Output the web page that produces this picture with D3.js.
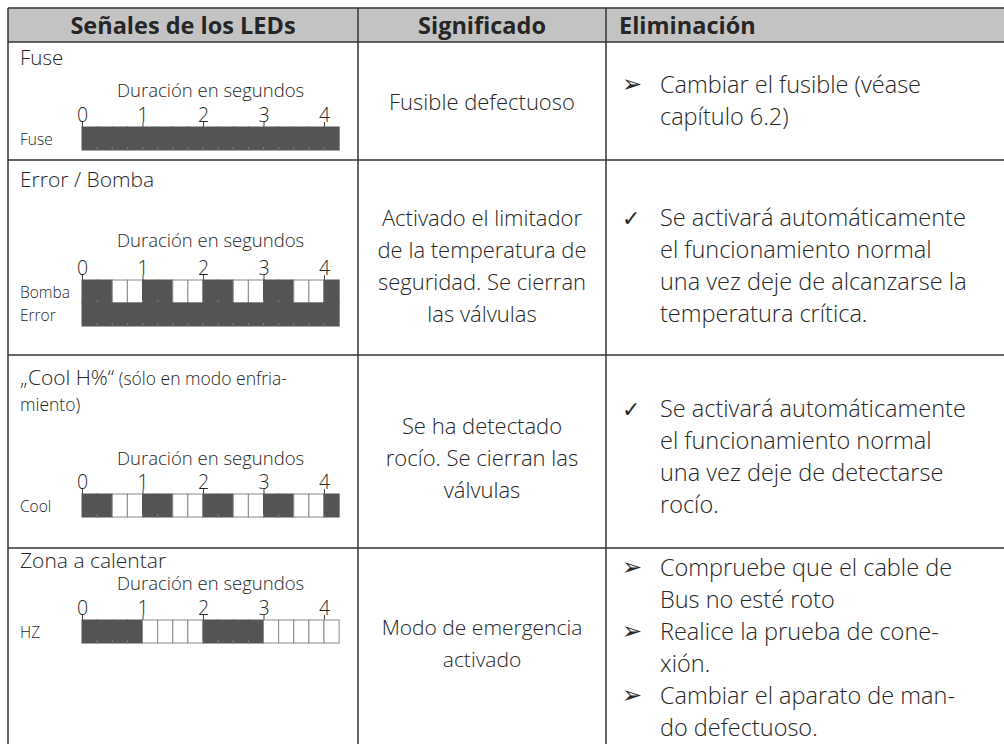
<!DOCTYPE html>
<html><head><meta charset="utf-8">
<script src="https://cdn.jsdelivr.net/npm/d3@7"></script>
<style>body{margin:0;background:#fff}</style>
</head><body><svg id="c" width="1004" height="744"></svg>
<script>
// ---------- data ----------
const headers = ["Señales de los LEDs", "Significado", "Eliminación"];
const rowTitles = ["Fuse", "Error / Bomba", "„Cool H%“", "Zona a calentar"];
const axisTitle = "Duración en segundos";
const tickLabels = [0, 1, 2, 3, 4];
// LED state per quarter second (1 = on, 0 = off), 0 … 4.25 s
const fuseStates  = [1,1,1,1,1,1,1,1,1,1,1,1,1,1,1,1,1];
const bombaStates = [1,1,0,0,1,1,0,0,1,1,0,0,1,1,0,0,1];
const errorStates = [1,1,1,1,1,1,1,1,1,1,1,1,1,1,1,1,1];
const coolStates  = [1,1,0,0,1,1,0,0,1,1,0,0,1,1,0,0,1];
const hzStates    = [1,1,1,1,0,0,0,0,1,1,1,1,0,0,0,0,0];
const meanings = [
  ["Fusible defectuoso"],
  ["Activado el limitador", "de la temperatura de", "seguridad. Se cierran", "las válvulas"],
  ["Se ha detectado", "rocío. Se cierran las", "válvulas"],
  ["Modo de emergencia", "activado"]
];
const remedies = [
  [{b: "➢", lines: ["Cambiar el fusible (véase", "capítulo 6.2)"]}],
  [{b: "✓", lines: ["Se activará automáticamente", "el funcionamiento normal", "una vez deje de alcanzarse la", "temperatura crítica."]}],
  [{b: "✓", lines: ["Se activará automáticamente", "el funcionamiento normal", "una vez deje de detectarse", "rocío."]}],
  [{b: "➢", lines: ["Compruebe que el cable de", "Bus no esté roto"]},
   {b: "➢", lines: ["Realice la prueba de cone-", "xión."]},
   {b: "➢", lines: ["Cambiar el aparato de man-", "do defectuoso."]}]
];

// ---------- layout ----------
const FONT = "'Open Sans', 'Noto Sans', sans-serif";
const TXT = "#262626";
const W = 350;
const colX = [8, 358, 606, 1012];
const rowY = [8, 42, 160, 355, 548, 760];
const svg = d3.select("#c");

svg.append("rect").attr("x", colX[0]).attr("y", rowY[0])
  .attr("width", colX[3] - colX[0]).attr("height", rowY[1] - rowY[0])
  .attr("fill", "#c3c3c3");

svg.selectAll("text.hdr").data(headers).join("text")
  .attr("class", "hdr")
  .attr("x", (d, i) => i < 2 ? (colX[i] + colX[i + 1]) / 2 : colX[2] + 13)
  .attr("y", 34)
  .attr("text-anchor", (d, i) => i < 2 ? "middle" : "start")
  .attr("font-family", FONT).attr("font-weight", 700).attr("font-size", 23.5)
  .attr("fill", TXT).text(d => d);

const g = svg.append("g").attr("stroke", "#333").attr("stroke-width", 1.5).attr("fill", "none");
rowY.forEach(y => g.append("line").attr("x1", colX[0]).attr("x2", colX[3]).attr("y1", y).attr("y2", y));
colX.forEach(x => g.append("line").attr("x1", x).attr("x2", x).attr("y1", rowY[0]).attr("y2", rowY[5]));

// ---------- LED diagrams ----------
const x = d3.scaleLinear().domain([0, 4]).range([82, 324]);
const BAR_H = 23;

function diagram(titleY, axisY, bars) {
  const gg = svg.append("g");
  gg.append("text").attr("x", (x(0) + x(4.25)) / 2).attr("y", titleY)
    .attr("text-anchor", "middle").attr("font-family", FONT).attr("font-size", 18.5)
    .attr("font-weight", W).attr("fill", TXT).text(axisTitle);
  const ax = gg.append("g").attr("transform", `translate(0,${axisY})`)
    .call(d3.axisTop(x).tickValues(tickLabels).tickSize(5).tickPadding(0).tickFormat(d3.format("d")));
  ax.select(".domain").remove();
  ax.selectAll("line").attr("stroke", "#444");
  ax.selectAll("text").attr("font-family", FONT).attr("font-size", 19.5).attr("font-weight", W).attr("fill", TXT);
  bars.forEach((b, k) => {
    const y0 = axisY + k * BAR_H;
    const bg = gg.append("g");
    bg.selectAll("rect").data(b.states).join("rect")
      .attr("x", (d, i) => x(i * 0.25)).attr("y", y0)
      .attr("width", (d, i) => x((i + 1) * 0.25) - x(i * 0.25)).attr("height", BAR_H)
      .attr("fill", d => d ? "#545454" : "#fff")
      .attr("stroke", d => d ? "#545454" : "#8a8a8a").attr("stroke-width", 1);
    bg.selectAll("line").data(b.states.map((d, i) => ({d, i})).filter(o => o.d && o.i > 0))
      .join("line")
      .attr("x1", o => x(o.i * 0.25)).attr("x2", o => x(o.i * 0.25))
      .attr("y1", y0 + BAR_H - 3).attr("y2", y0 + BAR_H)
      .attr("stroke", "#888").attr("stroke-width", 0.8);
    gg.append("text").attr("x", 20).attr("y", y0 + BAR_H - 5)
      .attr("font-family", FONT).attr("font-size", 15.5).attr("font-weight", W).attr("fill", TXT).text(b.label);
  });
}

// row titles
function title(txt, y, size) {
  return svg.append("text").attr("x", 20).attr("y", y).attr("font-family", FONT)
    .attr("font-size", size).attr("font-weight", W).attr("fill", TXT).text(txt);
}
title(rowTitles[0], 65, 20.5);
title(rowTitles[1], 187, 21);
const ct = svg.append("text").attr("x", 20).attr("y", 385).attr("font-family", FONT).attr("font-weight", W).attr("fill", TXT);
ct.append("tspan").attr("font-size", 21).text(rowTitles[2]);
ct.append("tspan").attr("font-size", 17.5).text("  (sólo en modo enfria-");
title("miento)", 411, 17.5);
title(rowTitles[3], 568, 21);

diagram(97, 127, [{label: "Fuse", states: fuseStates}]);
diagram(247, 280, [{label: "Bomba", states: bombaStates}, {label: "Error", states: errorStates}]);
diagram(465, 494, [{label: "Cool", states: coolStates}]);
diagram(590, 620, [{label: "HZ", states: hzStates}]);

// ---------- meaning column ----------
const LH = 32;
const meaningStart = [110, 226, 434, 635];
meanings.forEach((lines, r) => {
  svg.append("g").selectAll("text").data(lines).join("text")
    .attr("x", (colX[1] + colX[2]) / 2).attr("y", (d, i) => meaningStart[r] + i * LH)
    .attr("text-anchor", "middle").attr("font-family", FONT).attr("font-weight", W)
    .attr("font-size", r === 3 ? 21 : 22).attr("fill", TXT).text(d => d);
});

// ---------- remedy column ----------
const remedyStart = [93, 226, 417, 576];
remedies.forEach((items, r) => {
  let y = remedyStart[r];
  items.forEach(it => {
    svg.append("text").attr("x", colX[2] + 16).attr("y", y - (it.b === "➢" ? 1 : 0))
      .attr("font-family", "'DejaVu Sans', sans-serif").attr("font-size", it.b === "✓" ? 22 : 24)
      .attr("fill", TXT).text(it.b);
    it.lines.forEach((ln, i) => {
      svg.append("text").attr("x", colX[2] + 54).attr("y", y + i * LH)
        .attr("font-family", FONT).attr("font-weight", W).attr("font-size", 23.5).attr("fill", TXT).text(ln);
    });
    y += it.lines.length * LH;
  });
});
</script>
</body></html>
